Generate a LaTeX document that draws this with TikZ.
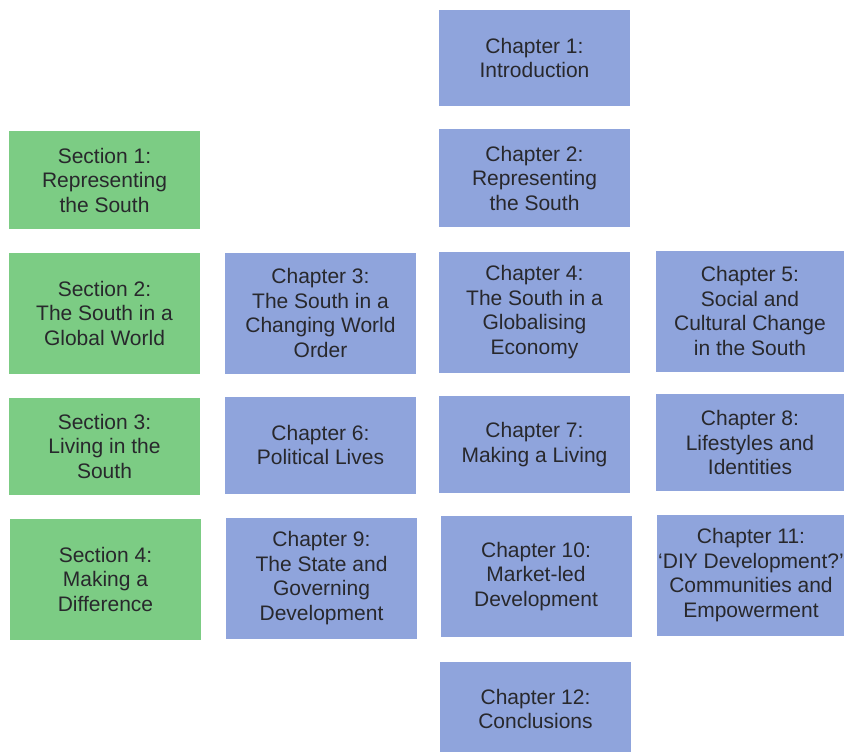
\documentclass[tikz,border=0pt]{standalone}
\usepackage{fontspec}
\newfontfamily\boxfont[Ligatures=TeX]{Liberation Sans}
\definecolor{secgreen}{RGB}{124,204,132}
\definecolor{chapblue}{RGB}{143,164,220}
\definecolor{txt}{RGB}{40,40,44}
\tikzset{
  box/.style={rectangle, inner sep=0pt, align=center, text=txt,
    font={\boxfont\fontsize{21}{24.5}\selectfont}},
  secbox/.style={box, fill=secgreen, minimum width=191pt},
  chapbox/.style={box, fill=chapblue, minimum width=191pt},
  lastcol/.style={minimum width=188pt},
  rowa/.style={minimum height=96pt},
  rowb/.style={minimum height=98pt},
  rowc/.style={minimum height=121pt},
  rowd/.style={minimum height=97pt},
  rowe/.style={minimum height=121pt},
  rowf/.style={minimum height=94pt}
}
\begin{document}
\begin{tikzpicture}[x=1pt,y=1pt]
\useasboundingbox (0,0) rectangle (844,-752);
\clip (0,0) rectangle (844,-752);
% row 1
\node[chapbox,rowa] (ch1) at (534.5,-58) {Chapter 1:\\Introduction};
% row 2
\node[secbox,rowb] (s1) at (104.5,-180) {Section 1:\\Representing\\the South};
\node[chapbox,rowb] (ch2) at (534.5,-178) {Chapter 2:\\Representing\\the South};
% row 3
\node[secbox,rowc] (s2) at (104.5,-313) {Section 2:\\The South in a\\Global World};
\node[chapbox,rowc] (ch3) at (320.5,-313) {Chapter 3:\\The South in a\\Changing World\\Order};
\node[chapbox,rowc] (ch4) at (534.5,-312) {Chapter 4:\\The South in a\\Globalising\\Economy};
\node[chapbox,rowc,lastcol] (ch5) at (750,-311) {Chapter 5:\\Social and\\Cultural Change\\in the South};
% row 4
\node[secbox,rowd] (s3) at (104.5,-446) {Section 3:\\Living in the\\South};
\node[chapbox,rowd] (ch6) at (320.5,-445) {Chapter 6:\\Political Lives};
\node[chapbox,rowd] (ch7) at (534.5,-444.5) {Chapter 7:\\Making a Living};
\node[chapbox,rowd,lastcol] (ch8) at (750,-442.5) {Chapter 8:\\Lifestyles and\\Identities};
% row 5
\node[secbox,rowe] (s4) at (105.5,-579) {Section 4:\\Making a\\Difference};
\node[chapbox,rowe] (ch9) at (321.5,-578) {Chapter 9:\\The State and\\Governing\\Development};
\node[chapbox,rowe] (ch10) at (536,-576.5) {Chapter 10:\\Market-led\\Development};
\node[chapbox,rowe,lastcol] (ch11) at (751,-575) {Chapter 11:\\‘DIY Development?’\\Communities and\\Empowerment};
% row 6
\node[chapbox,rowf] (ch12) at (535.5,-709) {Chapter 12:\\Conclusions};
\end{tikzpicture}
\end{document}
